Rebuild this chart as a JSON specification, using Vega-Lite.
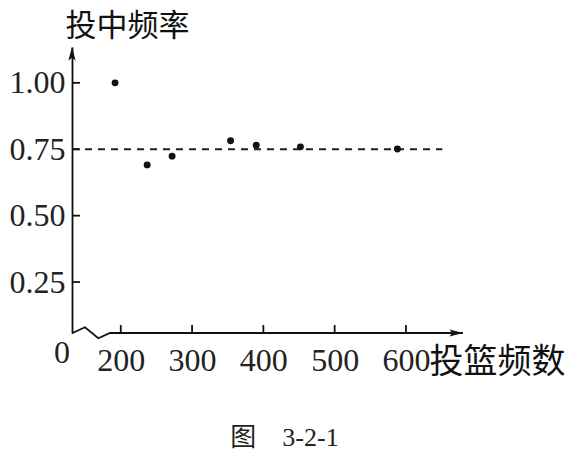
{
  "$schema": "https://vega.github.io/schema/vega-lite/v6.json",
  "width": 391,
  "height": 286,
  "autosize": {"type": "none"},
  "padding": {"left": 72, "top": 47, "right": 103, "bottom": 120},
  "background": "white",
  "config": {"view": {"stroke": null}, "font": "Liberation Serif, Noto Sans CJK SC"},
  "title": {"text": "图　3-2-1", "orient": "bottom", "anchor": "middle", "fontSize": 26, "fontWeight": "normal", "font": "Liberation Serif, Noto Sans CJK SC", "color": "#222", "offset": 46, "dx": 17},
  "datasets": {
    "points": [
      {"x": 192, "y": 1.0},
      {"x": 237, "y": 0.691},
      {"x": 272, "y": 0.724},
      {"x": 354, "y": 0.782},
      {"x": 390, "y": 0.765},
      {"x": 452, "y": 0.759},
      {"x": 588, "y": 0.751}
    ],
    "ref": [{"x": 131.6, "x2": 651, "y": 0.75}],
    "axisline": [
      {"i": 0, "x": 131.6, "y": 0.057},
      {"i": 1, "x": 149.8, "y": 0.0798},
      {"i": 2, "x": 168.5, "y": 0.0384},
      {"i": 3, "x": 185, "y": 0.058},
      {"i": 4, "x": 680, "y": 0.058}
    ],
    "xticks": [{"x": 200, "y": 0.058}, {"x": 300, "y": 0.058}, {"x": 400, "y": 0.058}, {"x": 500, "y": 0.058}, {"x": 600, "y": 0.058}],
    "yticks": [{"x": 131.6, "y": 0.25}, {"x": 131.6, "y": 0.5}, {"x": 131.6, "y": 0.75}, {"x": 131.6, "y": 1.0}],
    "yarrow": [{"x": 131.6, "y": 1.105}],
    "xarrow": [{"x": 668.8, "y": 0.058}],
    "origin": [{"x": 131.6, "y": 0.058, "label": "0"}]
  },
  "encoding": {
    "x": {
      "field": "x", "type": "quantitative",
      "scale": {"domain": [131.6, 680], "nice": false, "zero": false},
      "axis": {
        "values": [200, 300, 400, 500, 600], "format": "d", "domain": false, "grid": false,
        "ticks": true, "tickSize": -8, "tickOpacity": 0,
        "labelFont": "Liberation Serif", "labelFontSize": 32, "labelColor": "#222", "labelPadding": 20,
        "title": "投篮频数", "titleFont": "Noto Sans CJK SC", "titleFontSize": 34, "titleFontWeight": "normal",
        "titleColor": "#111", "titleX": 357, "titleY": 29, "titleAlign": "left", "titleBaseline": "middle", "titleAngle": 0
      }
    },
    "y": {
      "field": "y", "type": "quantitative",
      "scale": {"domain": [0.058, 1.135], "nice": false, "zero": false},
      "axis": {
        "values": [0.25, 0.5, 0.75, 1.0], "format": ".2f", "grid": false,
        "domain": true, "domainColor": "#111", "domainWidth": 1.8,
        "ticks": true, "tickSize": -8, "tickOpacity": 0,
        "labelFont": "Liberation Serif", "labelFontSize": 32, "labelColor": "#222", "labelPadding": 15,
        "title": "投中频率", "titleFont": "Noto Sans CJK SC", "titleFontSize": 31, "titleFontWeight": "normal",
        "titleColor": "#111", "titleX": -7, "titleY": -21, "titleAlign": "left", "titleBaseline": "middle", "titleAngle": 0
      }
    }
  },
  "layer": [
    {
      "data": {"name": "ref"},
      "mark": {"type": "rule", "strokeDash": [7, 6], "strokeWidth": 2, "color": "#222", "clip": false},
      "encoding": {"x2": {"field": "x2"}}
    },
    {
      "data": {"name": "axisline"},
      "mark": {"type": "line", "color": "#111", "strokeWidth": 1.8, "clip": false},
      "encoding": {"order": {"field": "i", "type": "quantitative"}}
    },
    {
      "data": {"name": "xticks"},
      "mark": {"type": "rule", "color": "#111", "strokeWidth": 1.8, "clip": false},
      "encoding": {"y2": {"datum": 0.088}}
    },
    {
      "data": {"name": "yticks"},
      "mark": {"type": "rule", "color": "#111", "strokeWidth": 1.8, "clip": false},
      "encoding": {"x2": {"datum": 142.8}}
    },
    {
      "data": {"name": "points"},
      "mark": {"type": "circle", "size": 48, "opacity": 1, "color": "#111", "clip": false}
    },
    {
      "data": {"name": "yarrow"},
      "mark": {"type": "point", "shape": "M0,-1L0.45,0.7L0,0.35L-0.45,0.7Z", "size": 256, "filled": true, "opacity": 1, "color": "#111", "clip": false}
    },
    {
      "data": {"name": "xarrow"},
      "mark": {"type": "point", "shape": "M1,0L-0.7,0.45L-0.35,0L-0.7,-0.45Z", "size": 256, "filled": true, "opacity": 1, "color": "#111", "clip": false}
    },
    {
      "data": {"name": "origin"},
      "mark": {"type": "text", "font": "Liberation Serif", "fontSize": 32, "color": "#222", "dx": -10, "dy": 20, "clip": false},
      "encoding": {"text": {"field": "label"}}
    }
  ]
}
